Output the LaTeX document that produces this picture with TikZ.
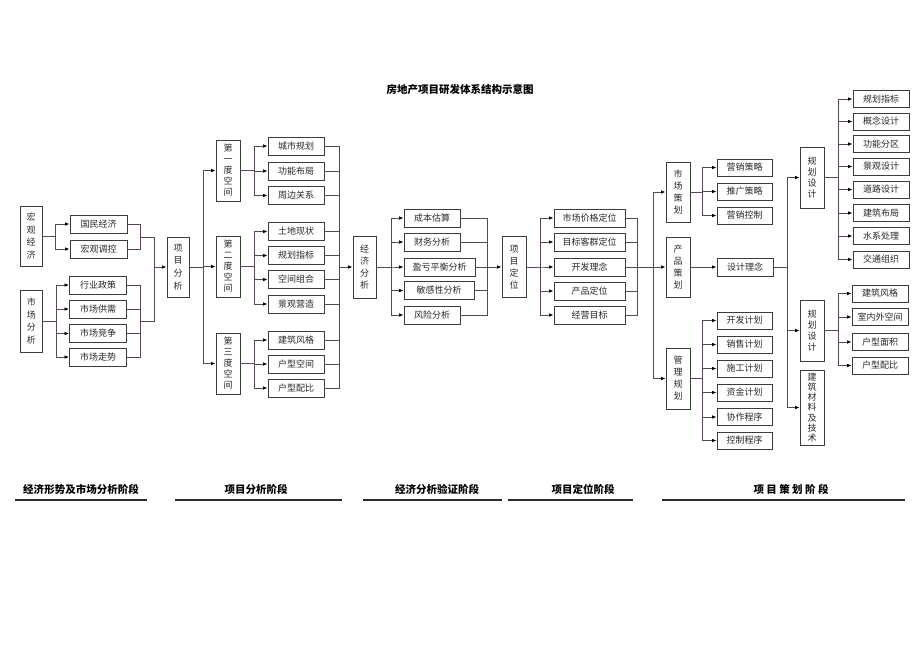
\documentclass[tikz,border=0pt]{standalone}
\usepackage{fontspec}
\setmainfont{Noto Sans CJK SC}
\usetikzlibrary{arrows.meta}
\definecolor{lnc}{RGB}{90,70,90}
\definecolor{bdr}{RGB}{60,60,60}
\definecolor{txt}{RGB}{40,40,40}
\definecolor{barc}{RGB}{45,45,45}
\begin{document}
\begin{tikzpicture}[x=1pt,y=-1pt,
  box/.style={draw=bdr, line width=0.9pt, fill=white, inner sep=0pt, text=txt,
    minimum height=18pt, font=\fontsize{9}{10}\selectfont},
  hb/.style={box, minimum width=56pt},
  hs/.style={box, minimum width=55pt, minimum height=17pt},
  vb/.style={box, align=center, minimum width=23pt, minimum height=61pt,
    font=\fontsize{9}{11}\selectfont},
  ln/.style={draw=lnc, line width=0.85pt},
  arr/.style={ln, -{Latex[length=4.5pt,width=3.6pt,color=black]}},
  stage/.style={font=\bfseries\fontsize{10.5}{12}\selectfont, text=black, inner sep=0pt},
  barl/.style={draw=barc, line width=2.8pt}
]
\useasboundingbox (0,0) rectangle (920,651);

% title
\node[font=\bfseries\fontsize{10.5}{12}\selectfont, inner sep=0pt] (title) at (460,90) {房地产项目研发体系结构示意图};

% ---------- left ----------
\node[vb, minimum width=22pt, minimum height=60pt, font=\fontsize{9}{12.7}\selectfont] (hgjj) at (31,236) {宏\\观\\经\\济};
\node[hb, minimum width=57pt] (gmjj) at (98.5,224) {国民经济};
\node[hb, minimum width=57pt] (hgtk) at (98.5,249) {宏观调控};
\node[vb, minimum width=22pt, minimum height=62pt, font=\fontsize{9}{12.7}\selectfont] (scfx) at (31.5,321) {市\\场\\分\\析};
\node[hb, minimum width=57pt] (hyzc) at (98,285) {行业政策};
\node[hb, minimum width=57pt] (scgx) at (98,309) {市场供需};
\node[hb, minimum width=57pt] (scjz) at (98,333.5) {市场竞争};
\node[hb, minimum width=57pt] (sczs) at (98,357) {市场走势};
\node[vb, minimum width=22pt, minimum height=60pt, font=\fontsize{9}{12.7}\selectfont] (xmfx) at (178,267) {项\\目\\分\\析};

\foreach \c in {gmjj,hgtk} \draw[arr] (hgjj.east) -- ++(13,0) |- (\c.west);
\foreach \c in {hyzc,scgx,scjz,sczs} \draw[arr] (scfx.east) -- ++(13,0) |- (\c.west);
\coordinate (b1) at (140,237);
\coordinate (b2) at (140,321);
\coordinate (j1) at (154,267);
\foreach \c in {gmjj,hgtk} \draw[ln] (\c.east) -| (b1);
\foreach \c in {hyzc,scgx,scjz,sczs} \draw[ln] (\c.east) -| (b2);
\draw[ln] (b1) -| (j1);
\draw[ln] (b2) -| (j1);
\draw[arr] (j1) -- (xmfx.west);

% ---------- space ----------
\node[vb, minimum width=24pt] (d1) at (228,170.5) {第\\一\\度\\空\\间};
\node[vb, minimum width=24pt] (d2) at (228,266.5) {第\\二\\度\\空\\间};
\node[vb, minimum width=24pt] (d3) at (228,363.5) {第\\三\\度\\空\\间};
\node[hb] (cs) at (296,146) {城市规划};
\node[hb] (gn) at (296,171) {功能布局};
\node[hb] (zb) at (296,195.5) {周边关系};
\node[hb] (td) at (296,231.5) {土地现状};
\node[hb] (gh) at (296,255.5) {规划指标};
\node[hb] (kj) at (296,279.5) {空间组合};
\node[hb] (jg) at (296,304) {景观营造};
\node[hb] (jzfg) at (296,340) {建筑风格};
\node[hb] (hxkj) at (296,364) {户型空间};
\node[hb] (hxpb) at (296,388) {户型配比};

\coordinate (s0) at (203,267);
\draw[ln] (xmfx.east) -- (s0);
\foreach \c in {d1,d2,d3} \draw[arr] (s0) |- (\c.west);
\foreach \c in {cs,gn,zb} \draw[arr] (d1.east) -- ++(14,0) |- (\c.west);
\foreach \c in {td,gh,kj,jg} \draw[arr] (d2.east) -- ++(14,0) |- (\c.west);
\foreach \c in {jzfg,hxkj,hxpb} \draw[arr] (d3.east) -- ++(14,0) |- (\c.west);

% ---------- economics ----------
\node[vb, minimum width=23pt, minimum height=62pt, font=\fontsize{9}{12}\selectfont] (jjfx) at (364.5,267) {经\\济\\分\\析};
\coordinate (s1) at (339,267);
\foreach \c in {cs,gn,zb,td,gh,kj,jg,jzfg,hxkj,hxpb} \draw[ln] (\c.east) -| (s1);
\draw[arr] (s1) -- (jjfx.west);

\node[hb] (cb) at (432,218) {成本估算};
\node[hb] (cw) at (432,242) {财务分析};
\node[hb, minimum width=71pt] (yk) at (439.5,267) {盈亏平衡分析};
\node[hb, minimum width=70pt] (mg) at (439,290.5) {敏感性分析};
\node[hb] (fx) at (432,315) {风险分析};
\node[vb, minimum width=24pt, font=\fontsize{9}{12}\selectfont] (xmdw) at (514,267) {项\\目\\定\\位};
\foreach \c in {cb,cw,yk,mg,fx} \draw[arr] (jjfx.east) -- ++(15,0) |- (\c.west);
\coordinate (e1) at (487,267);
\foreach \c in {cb,cw,yk,mg,fx} \draw[ln] (\c.east) -| (e1);
\draw[arr] (e1) -- (xmdw.west);

% ---------- positioning ----------
\node[hb, minimum width=71pt] (jgdw) at (589.5,218) {市场价格定位};
\node[hb, minimum width=71pt] (mbkq) at (589.5,242) {目标客群定位};
\node[hb, minimum width=71pt] (kfln) at (589.5,267) {开发理念};
\node[hb, minimum width=71pt] (cpdw) at (589.5,291) {产品定位};
\node[hb, minimum width=71pt] (jymb) at (589.5,315) {经营目标};
\foreach \c in {jgdw,mbkq,kfln,cpdw,jymb} \draw[arr] (xmdw.east) -- ++(14,0) |- (\c.west);
\coordinate (p1) at (637,267);
\coordinate (p2) at (653,267);
\foreach \c in {jgdw,mbkq,kfln,cpdw,jymb} \draw[ln] (\c.east) -| (p1);
\draw[ln] (p1) -- (p2);

% ---------- planning ----------
\node[vb, minimum width=24pt, minimum height=60pt, font=\fontsize{9}{12}\selectfont] (schd) at (678,192) {市\\场\\策\\划};
\node[vb, minimum width=24pt, minimum height=60pt, font=\fontsize{9}{12}\selectfont] (cpch) at (678,267) {产\\品\\策\\划};
\node[vb, minimum width=24pt, font=\fontsize{9}{12}\selectfont] (glgh) at (678,378.5) {管\\理\\规\\划};
\foreach \c in {schd,cpch,glgh} \draw[arr] (p2) |- (\c.west);

\node[hs] (yxcl) at (744.5,167.5) {营销策略};
\node[hs] (tgcl) at (744.5,191.5) {推广策略};
\node[hs] (yxkz) at (744.5,215.5) {营销控制};
\node[hb] (sjln) at (745,267) {设计理念};
\node[hs] (kfjh) at (744.5,320.5) {开发计划};
\node[hs] (xsjh) at (744.5,344.5) {销售计划};
\node[hs] (sgjh) at (744.5,368.5) {施工计划};
\node[hs] (zjjh) at (744.5,392.5) {资金计划};
\node[hs] (xzcx) at (744.5,417) {协作程序};
\node[hs] (kzcx) at (744.5,440.5) {控制程序};
\foreach \c in {yxcl,tgcl,yxkz} \draw[arr] (schd.east) -- ++(12,0) |- (\c.west);
\draw[arr] (cpch.east) -- (sjln.west);
\foreach \c in {kfjh,xsjh,sgjh,zjjh,xzcx,kzcx} \draw[arr] (glgh.east) -- ++(12,0) |- (\c.west);

% ---------- design ----------
\node[vb, minimum width=24pt, font=\fontsize{9}{11}\selectfont] (ghsj1) at (812,177.5) {规\\划\\设\\计};
\node[vb, minimum width=24pt, font=\fontsize{9}{11}\selectfont] (ghsj2) at (812,330.5) {规\\划\\设\\计};
\node[vb, minimum width=24pt, minimum height=75pt, font=\fontsize{9}{10.3}\selectfont] (jzcl) at (812,407.5) {建\\筑\\材\\料\\及\\技\\术};
\coordinate (q1) at (787,267);
\draw[ln] (sjln.east) -- (q1);
\foreach \c in {ghsj1,ghsj2,jzcl} \draw[arr] (q1) |- (\c.west);

\node[hs, minimum width=56pt] (a1) at (881,99) {规划指标};
\node[hs, minimum width=56pt] (a2) at (881,121.5) {概念设计};
\node[hs, minimum width=56pt] (a3) at (881,144) {功能分区};
\node[hs, minimum width=56pt] (a4) at (881,166.5) {景观设计};
\node[hs, minimum width=56pt] (a5) at (881,189.5) {道路设计};
\node[hs, minimum width=56pt] (a6) at (881,213) {建筑布局};
\node[hs, minimum width=56pt] (a7) at (881,236) {水系处理};
\node[hs, minimum width=56pt] (a8) at (881,259.5) {交通组织};
\foreach \c in {a1,a2,a3,a4,a5,a6,a7,a8} \draw[arr] (ghsj1.east) -- ++(14,0) |- (\c.west);

\node[hs, minimum width=56pt] (c1) at (880,293.5) {建筑风格};
\node[hs, minimum width=56pt] (c2) at (880,317) {室内外空间};
\node[hs, minimum width=56pt] (c3) at (880,342) {户型面积};
\node[hs, minimum width=56pt] (c4) at (880,365.5) {户型配比};
\foreach \c in {c1,c2,c3,c4} \draw[arr] (ghsj2.east) -- ++(14,0) |- (\c.west);

% ---------- stages ----------
\node[stage] (t1) at (81,489) {经济形势及市场分析阶段};
\node[stage] (t2) at (256,489) {项目分析阶段};
\node[stage] (t3) at (437,489) {经济分析验证阶段};
\node[stage] (t4) at (583,489) {项目定位阶段};
\node[stage] (t5) at (791,489) {项\ 目\ 策\ 划\ 阶\ 段};
\draw[barl] (15,500) -- (147,500);
\draw[barl] (175,500) -- (342,500);
\draw[barl] (363,500) -- (502,500);
\draw[barl] (508,500) -- (633,500);
\draw[barl] (662,500) -- (905,500);
\end{tikzpicture}
\end{document}
